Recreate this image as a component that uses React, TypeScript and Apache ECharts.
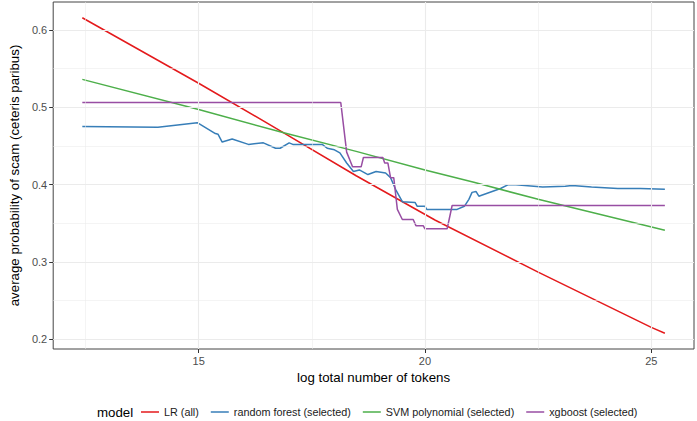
import React, { useEffect, useRef } from "react";
import * as echarts from "echarts";

// ---- data ----
const lrX = [12.43, 15.0, 16.88, 18.48, 20.23, 22.5, 25.0, 25.3];
const lrY = [0.6156, 0.531, 0.467, 0.4115, 0.354, 0.287, 0.2156, 0.208];

const rfX = [12.43, 14.1, 14.97, 15.37, 15.43, 15.52, 15.74, 16.1, 16.43, 16.7, 16.8, 17.0, 17.08, 17.73, 17.84, 18.0, 18.12, 18.27, 18.42, 18.55, 18.74, 18.92, 19.13, 19.24, 19.35, 19.5, 19.78, 19.83, 20.0, 20.04, 20.71, 20.87, 20.97, 21.04, 21.13, 21.19, 21.67, 21.84, 22.01, 22.6, 23.1, 23.25, 23.68, 24.26, 24.76, 25.3];
const rfY = [0.475, 0.474, 0.48, 0.466, 0.465, 0.455, 0.459, 0.452, 0.454, 0.447, 0.447, 0.454, 0.452, 0.452, 0.447, 0.445, 0.441, 0.428, 0.417, 0.419, 0.413, 0.417, 0.415, 0.409, 0.394, 0.378, 0.377, 0.372, 0.372, 0.368, 0.368, 0.372, 0.381, 0.39, 0.391, 0.385, 0.395, 0.4, 0.4, 0.397, 0.398, 0.399, 0.397, 0.395, 0.395, 0.394];

const svmX = [12.43, 15.0, 16.88, 18.48, 20.0, 21.08, 22.5, 25.3];
const svmY = [0.536, 0.497, 0.467, 0.443, 0.419, 0.403, 0.381, 0.341];

const xgbX = [12.43, 18.14, 18.27, 18.4, 18.59, 18.64, 19.07, 19.11, 19.18, 19.24, 19.31, 19.39, 19.5, 19.74, 19.8, 19.96, 20.0, 20.49, 20.6, 25.3];
const xgbY = [0.506, 0.506, 0.442, 0.423, 0.423, 0.435, 0.435, 0.428, 0.428, 0.409, 0.409, 0.368, 0.355, 0.355, 0.347, 0.347, 0.343, 0.343, 0.373, 0.373];

const seriesNames = ["LR (all)", "random forest (selected)", "SVM polynomial (selected)", "xgboost (selected)"];
const seriesColors = ["#E41A1C", "#377EB8", "#4DAF4A", "#984EA3"];

const xTicks = [15, 20, 25];
const xMinorTicks = [12.5, 17.5, 22.5];
const yTicks = [0.2, 0.3, 0.4, 0.5, 0.6];
const yMinorTicks = [0.25, 0.35, 0.45, 0.55];

const xTitle = "log total number of tokens";
const yTitle = "average probability of scam (ceteris paribus)";
const legendTitle = "model";

const FONT = "'Liberation Sans', Arial, sans-serif";

function zip(xs: number[], ys: number[]) {
  return xs.map((x, i) => [x, ys[i]]);
}

export default function App() {
  const ref = useRef<HTMLDivElement>(null);
  useEffect(() => {
    document.body.style.margin = "0";
    const chart = echarts.init(ref.current!, null, { renderer: "svg" });
    const allX = [...lrX, ...rfX, ...svmX, ...xgbX];
    const allY = [...lrY, ...rfY, ...svmY, ...xgbY];
    const xmin0 = Math.min(...allX), xmax0 = Math.max(...allX);
    const ymin0 = Math.min(...allY), ymax0 = Math.max(...allY);
    const xr = xmax0 - xmin0, yr = ymax0 - ymin0;
    const xMin = xmin0 - 0.05 * xr, xMax = xmax0 + 0.05 * xr;
    const yMin = ymin0 - 0.05 * yr, yMax = ymax0 + 0.05 * yr;

    const grid = "#ebebeb";
    const gridLines = [
      ...xTicks.map((v) => ({ xAxis: v, lineStyle: { color: grid, width: 1.1, type: "solid" } })),
      ...xMinorTicks.map((v) => ({ xAxis: v, lineStyle: { color: grid, width: 0.55, type: "solid" } })),
      ...yTicks.map((v) => ({ yAxis: v, lineStyle: { color: grid, width: 1.1, type: "solid" } })),
      ...yMinorTicks.map((v) => ({ yAxis: v, lineStyle: { color: grid, width: 0.55, type: "solid" } })),
    ];

    const datasets = [zip(lrX, lrY), zip(rfX, rfY), zip(svmX, svmY), zip(xgbX, xgbY)];

    chart.setOption({
      animation: false,
      textStyle: { fontFamily: FONT },
      grid: {
        left: 39,
        top: 2,
        right: 3,
        bottom: 72,
        show: true,
        borderColor: "#444",
        borderWidth: 1,
        backgroundColor: "#fff",
        containLabel: false,
      },
      xAxis: {
        type: "value",
        min: xMin,
        max: xMax,
        name: xTitle,
        nameLocation: "middle",
        nameGap: 21,
        nameTextStyle: { fontSize: 13.3, color: "#000", fontFamily: FONT },
        axisLine: { show: false },
        splitLine: { show: false },
        axisTick: { show: true, customValues: xTicks, length: 4, lineStyle: { color: "#333" } },
        axisLabel: { customValues: xTicks, fontSize: 11, color: "#4d4d4d", margin: 6, fontFamily: FONT },
      },
      yAxis: {
        type: "value",
        min: yMin,
        max: yMax,
        name: yTitle,
        nameLocation: "middle",
        nameGap: 20,
        nameTextStyle: { fontSize: 13.3, color: "#000", fontFamily: FONT },
        axisLine: { show: false },
        splitLine: { show: false },
        axisTick: { show: true, customValues: yTicks, length: 4, lineStyle: { color: "#333" } },
        axisLabel: {
          customValues: yTicks,
          fontSize: 11,
          color: "#4d4d4d",
          margin: 6,
          fontFamily: FONT,
          formatter: (v: number) => v.toFixed(1),
        },
      },
      legend: {
        data: seriesNames,
        left: 141,
        top: 406.5,
        padding: 0,
        icon: "rect",
        itemWidth: 18,
        itemHeight: 1.5,
        itemGap: 12,
        textStyle: { fontSize: 10.8, color: "#1a1a1a", fontFamily: FONT },
      },
      graphic: [
        {
          type: "text",
          left: 97,
          top: 406,
          style: { text: legendTitle, fontSize: 13.3, fill: "#000", fontFamily: FONT },
        },
      ],
      series: [
        {
          type: "line",
          name: "grid",
          data: [],
          z: 1,
          silent: true,
          markLine: {
            silent: true,
            symbol: ["none", "none"],
            label: { show: false },
            animation: false,
            data: gridLines,
          },
        },
        ...datasets.map((d, i) => ({
          type: "line",
          name: seriesNames[i],
          data: d,
          symbol: "none",
          showSymbol: false,
          z: 3,
          color: seriesColors[i],
          lineStyle: { color: seriesColors[i], width: 1.5 },
        })),
      ],
    });
    return () => chart.dispose();
  }, []);
  return <div ref={ref} style={{ width: 697, height: 421, position: "absolute", left: 0, top: 0 }} />;
}
